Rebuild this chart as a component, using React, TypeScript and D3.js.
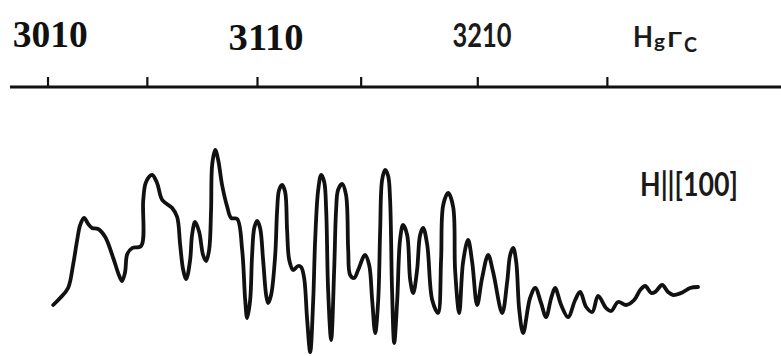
import React from "react";
import * as d3 from "d3";

// Magnetic field (G) and signal intensity (arb. units)
const fieldValues = [
  3011.4, 3014.6, 3018.3, 3020.6, 3022.5, 3023.9, 3025.7, 3027.6, 3029.4, 3032.2,
  3035.5, 3039.2, 3042.0, 3043.3, 3044.7, 3045.7, 3048.0, 3052.1, 3053.1, 3054.4,
  3057.2, 3059.5, 3061.9, 3066.5, 3068.8, 3070.2, 3071.6, 3073.0, 3074.8, 3075.7,
  3077.1, 3079.0, 3080.8, 3082.2, 3083.6, 3084.5, 3085.0, 3086.4, 3087.8, 3089.6,
  3092.0, 3093.8, 3096.6, 3098.9, 3100.3, 3101.2, 3102.6, 3103.5, 3104.5, 3105.8,
  3107.2, 3108.6, 3110.0, 3110.9, 3112.3, 3114.2, 3115.1, 3116.0, 3117.4, 3118.8,
  3119.7, 3120.7, 3122.5, 3124.8, 3126.2, 3127.6, 3129.0, 3130.4, 3131.8, 3132.7,
  3134.1, 3135.5, 3136.9, 3137.8, 3138.7, 3140.1, 3141.5, 3142.4, 3143.3, 3145.2,
  3147.0, 3148.0, 3148.9, 3150.8, 3152.6, 3155.8, 3157.7, 3159.1, 3160.5, 3161.9,
  3162.8, 3163.7, 3165.1, 3166.5, 3167.4, 3168.3, 3169.3, 3170.7, 3172.0, 3173.4,
  3175.3, 3176.7, 3178.1, 3179.9, 3181.3, 3182.7, 3184.6, 3186.9, 3189.6, 3191.0,
  3192.0, 3194.3, 3196.6, 3197.5, 3199.4, 3201.2, 3203.5, 3205.4, 3207.7, 3210.0,
  3212.8, 3215.1, 3219.3, 3221.6, 3223.0, 3224.4, 3225.8, 3227.2, 3229.0, 3232.2,
  3234.6, 3237.3, 3239.6, 3242.0, 3243.8, 3246.6, 3249.8, 3253.1, 3255.4, 3258.2,
  3261.0, 3263.7, 3267.4, 3269.7, 3273.0, 3276.7, 3280.4, 3283.2, 3285.5, 3288.3,
  3290.1, 3293.4, 3296.1, 3298.5, 3303.1, 3306.3, 3310.0,
];
const intensityValues = [
  22.5, 26, 31, 42.5, 55, 62.5, 66, 63, 61, 60.5,
  56.5, 46, 37, 34.5, 39, 48, 51, 52, 75, 84,
  87.5, 83.5, 75, 71, 66.5, 52.5, 40, 35.5, 45, 57.5,
  64, 59, 47.5, 44.5, 50, 70, 92.5, 100, 95, 82.5,
  71.5, 66, 65.5, 50, 25, 16, 25, 47.5, 61, 64.5,
  61, 45, 27.5, 23.5, 27.5, 47.5, 70, 80, 82.5, 79,
  60, 45, 40, 42, 41.5, 36, 15, -1, 25, 55,
  80, 87.5, 84, 70, 30, 5, 40, 70, 80, 83,
  77.5, 50, 37.5, 36, 40, 47.5, 42.5, 25, 8.5, 25,
  60, 85, 90, 87, 75, 30, 3.5, 25, 55, 62.5,
  57.5, 35, 28.5, 40, 57.5, 61, 52.5, 25, 18.5, 45,
  72.5, 78.5, 71.5, 40, 18.5, 44, 55, 44, 22.5, 36,
  47.5, 39, 18.5, 34, 47.5, 51, 44, 20, 8.5, 26,
  31, 23.5, 16.5, 26, 31, 22.5, 16.5, 25, 29, 21.5,
  19, 27, 21, 19.5, 24, 22.5, 25, 30, 32, 28.5,
  29, 32.5, 29, 27.5, 29, 31, 31.5,
];

const axisExtent = [2991.4, 3348.4];
const tickValues = [3009, 3055, 3106, 3154, 3208, 3268];
const labelValues = [3010, 3110, 3210];
const orientationLabel = "H||[100]";

export default function App() {
  const width = 781;
  const height = 356;
  const axisY = 87;

  const x = d3.scaleLinear().domain(axisExtent).range([10, 781]);
  const y = d3.scaleLinear().domain([0, 100]).range([350, 150]);

  const points: [number, number][] = fieldValues.map((f, i) => [f, intensityValues[i]]);
  const line = d3
    .line<[number, number]>()
    .x((d) => x(d[0]))
    .y((d) => y(d[1]))
    .curve(d3.curveCatmullRom.alpha(0.5));

  const sans = "Lato, 'Liberation Sans', Arial, sans-serif";

  return (
    <svg
      width={width}
      height={height}
      style={{ position: "absolute", left: 0, top: 0, background: "#fff" }}
    >
      <rect width={width} height={height} fill="#fff" />
      {labelValues.map((v, i) =>
        i < 2 ? (
          <text
            key={v}
            x={x(v)}
            y={i === 0 ? 47 : 50}
            textAnchor="middle"
            fontFamily="'Liberation Serif', 'Times New Roman', serif"
            fontWeight="bold"
            fontSize={37}
            textLength={75}
            lengthAdjust="spacingAndGlyphs"
            fill="#111"
          >
            {v}
          </text>
        ) : (
          <text
            key={v}
            x={x(v)}
            y={47}
            textAnchor="middle"
            fontFamily={sans}
            fontWeight={700}
            fontSize={33}
            textLength={59}
            lengthAdjust="spacingAndGlyphs"
            fill="#1a1a1a"
          >
            {v}
          </text>
        )
      )}
      <g fontFamily={sans} fontWeight={700} fill="#1a1a1a">
        <text x={633} y={47} fontSize={28} textLength={20} lengthAdjust="spacingAndGlyphs">H</text>
        <text x={654} y={48} fontSize={19} textLength={11} lengthAdjust="spacingAndGlyphs">g</text>
        <text x={667} y={47} fontSize={21} textLength={15} lengthAdjust="spacingAndGlyphs">Γ</text>
        <text x={684} y={52} fontSize={20} textLength={13} lengthAdjust="spacingAndGlyphs">C</text>
      </g>
      <g>
        <line
          x1={x(axisExtent[0])}
          x2={x(axisExtent[1])}
          y1={axisY}
          y2={axisY}
          stroke="#111"
          strokeWidth={2.8}
        />
        {tickValues.map((v) => (
          <line
            key={v}
            x1={x(v)}
            x2={x(v)}
            y1={axisY}
            y2={axisY - 10}
            stroke="#111"
            strokeWidth={2.2}
          />
        ))}
      </g>
      <path
        d={line(points) || ""}
        fill="none"
        stroke="#111"
        strokeWidth={3.8}
        strokeLinejoin="round"
        strokeLinecap="round"
      />
      <text
        x={640}
        y={196}
        fontFamily={sans}
        fontWeight={700}
        fontSize={32}
        textLength={98}
        lengthAdjust="spacingAndGlyphs"
        fill="#1a1a1a"
      >
        {orientationLabel}
      </text>
    </svg>
  );
}
